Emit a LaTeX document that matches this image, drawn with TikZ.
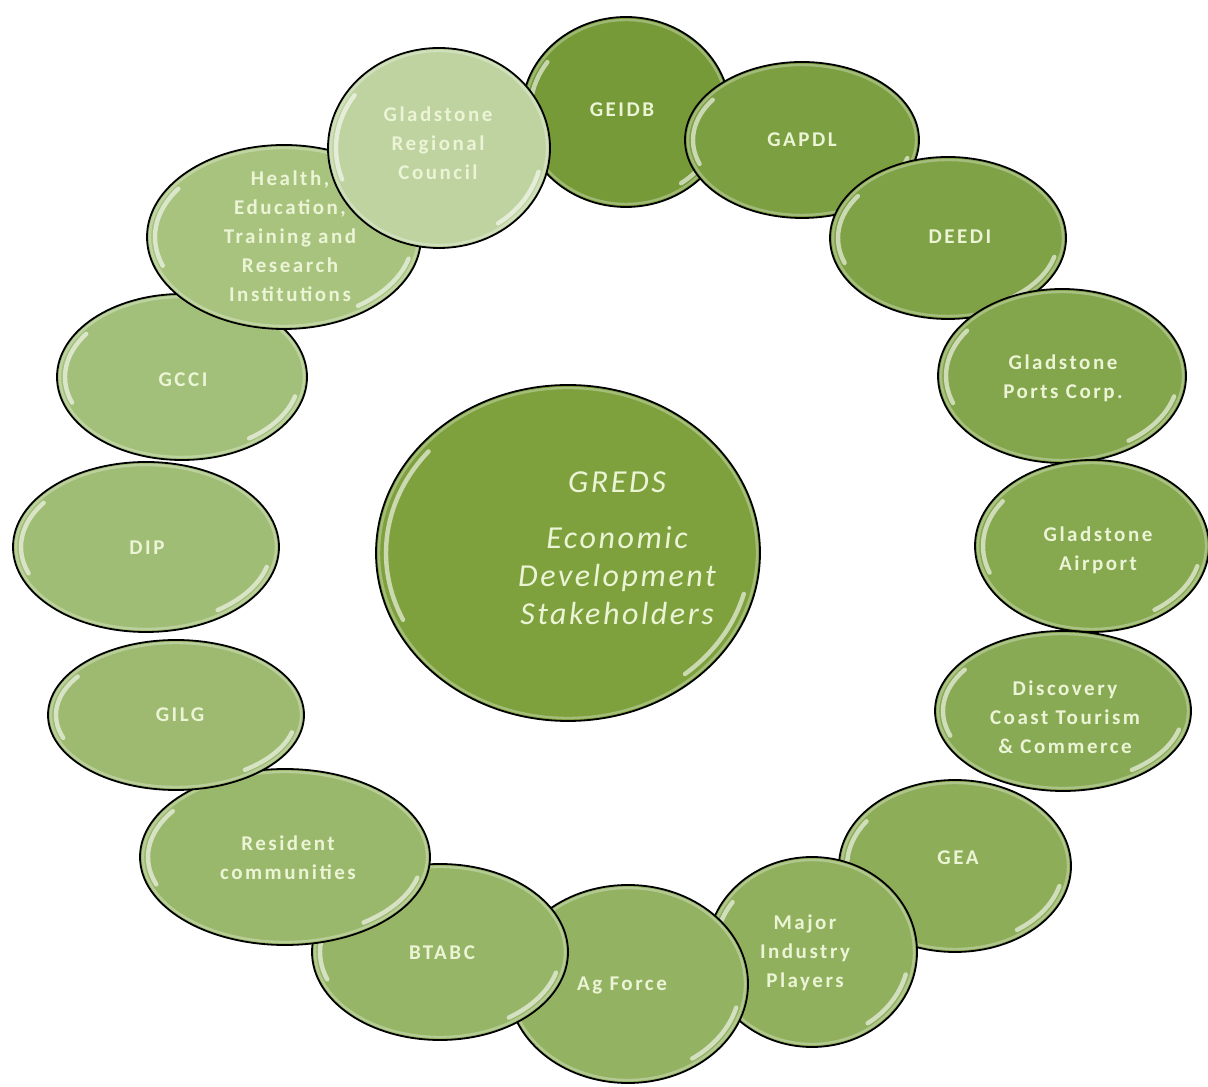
\documentclass[tikz,border=0pt]{standalone}
\usepackage{fontspec}
\setmainfont{Carlito}
\newfontfamily\bubblefont{Carlito}[LetterSpace=12]
\newfontfamily\hubfont{Carlito}[LetterSpace=8]
\usetikzlibrary{shapes.geometric}
\definecolor{gdark}{RGB}{118,154,56}
\definecolor{glight}{RGB}{172,199,134}
\definecolor{grcfill}{RGB}{190,211,160}
\definecolor{hubfill}{RGB}{126,161,62}
\definecolor{cream}{RGB}{236,244,214}
\tikzset{
  bubble/.style={ellipse, draw=black, line width=0.9pt, inner sep=0pt},
  gloss/.style={white, opacity=0.6, line width=2.2pt, line cap=round},
  rim/.style={white, opacity=0.3, line width=1.2pt},
  bubbletext/.style={text=cream, align=center,
    font=\bubblefont\bfseries\fontsize{10.5}{14.5}\selectfont},
}
\begin{document}
\begin{tikzpicture}[x=0.5pt,y=0.5pt]
  \useasboundingbox (0,0) rectangle (1208,1086);
  % hub
  \node[bubble, fill=hubfill, minimum width=192pt, minimum height=168pt] (greds) at (568,{1086-553}) {};
  \draw[rim] (greds.center) ellipse[x radius=189, y radius=165];
  \draw[gloss] (greds.center) ++(140:182 and 158) arc[start angle=140, end angle=205, x radius=182, y radius=158];
  \draw[gloss] (greds.center) ++(-15:182 and 158) arc[start angle=-15, end angle=-50, x radius=182, y radius=158];
  \node[text=cream, align=center, font=\hubfont\itshape\fontsize{16}{19}\selectfont]
    (gredslabel) at (617,{1086-548}) {GREDS\\[9pt] Economic\\ Development\\ Stakeholders};
  % ring of stakeholders, drawn clockwise so each one lies on the one before
  \foreach \nm/\cx/\cy/\rx/\ry/\col/\tx/\ty/\txt in {
    geidb/626/112/104/95/gdark/622/110/{GEIDB},
    gapdl/802/140/117/78/gdark!88!glight/802/140/{GAPDL},
    deedi/948/238/118/81/gdark!82!glight/960/237/{DEEDI},
    ports/1062/376/124/87/gdark!76!glight/1063/378/{Gladstone\\ Ports Corp.},
    airport/1092/546/117/86/gdark!70!glight/1098/550/{Gladstone\\ Airport},
    discovery/1063/711/128/80/gdark!64!glight/1065/717/{Discovery\\ Coast Tourism\\ \& Commerce},
    gea/955/866/116/86/gdark!58!glight/958/858/{GEA},
    major/812/952/105/95/gdark!52!glight/805/953/{Major\\ Industry\\ Players},
    agforce/628/984/120/99/gdark!46!glight/622/985/{Ag Force},
    btabc/440/952/128/88/gdark!40!glight/442/953/{BTABC},
    resident/285/857/145/88/gdark!34!glight/288/858/{Resident\\ communities},
    gilg/176/715/128/75/gdark!28!glight/180/715/{GILG},
    dip/146/547/133/85/gdark!22!glight/147/548/{DIP},
    gcci/182/377/125/83/gdark!16!glight/183/380/{GCCI},
    health/284/237/137/92/gdark!10!glight/290/236/{Health,\\ Education,\\ Training and\\ Research\\ Institutions},
    grc/439/148/111/100/grcfill/438/143/{Gladstone\\ Regional\\ Council}}{
    \node[bubble, fill=\col, minimum width=\rx pt, minimum height=\ry pt] (\nm) at (\cx,{1086-\cy}) {};
    \draw[rim] (\nm.center) ellipse[x radius=\rx-3, y radius=\ry-3];
    \draw[gloss] (\nm.center) ++(145:{\rx-8} and {\ry-8}) arc[start angle=145, end angle=200, x radius=\rx-8, y radius=\ry-8];
    \draw[gloss] (\nm.center) ++(-15:{\rx-8} and {\ry-8}) arc[start angle=-15, end angle=-55, x radius=\rx-8, y radius=\ry-8];
    \node[bubbletext] (\nm text) at (\tx,{1086-\ty}) {\txt};
  }
\end{tikzpicture}
\end{document}
